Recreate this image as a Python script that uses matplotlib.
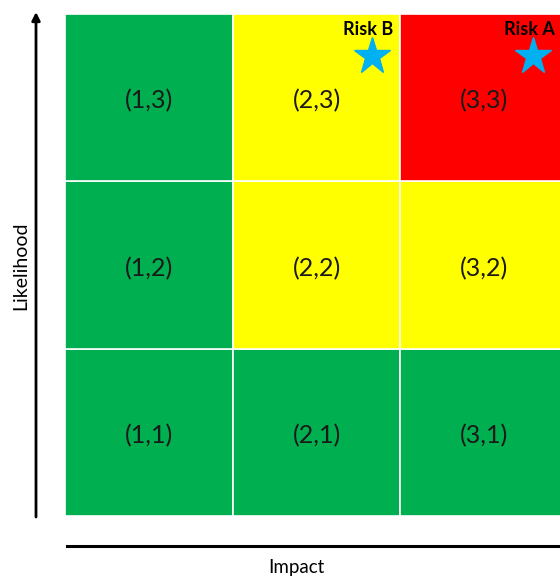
import matplotlib.pyplot as plt
from matplotlib.patches import Rectangle

plt.rcParams['font.family'] = ['Lato', 'DejaVu Sans']

# impact (x) and likelihood (y) levels
impact = [1, 2, 3]
likelihood = [1, 2, 3]
# score colour for each cell, indexed [likelihood-1][impact-1]
cell_colors = [
    ['#00B050', '#00B050', '#00B050'],
    ['#00B050', '#FFFF00', '#FFFF00'],
    ['#00B050', '#FFFF00', '#FF0000'],
]
risk_names = ['Risk A', 'Risk B']
risk_x = [2.79, 1.83]
risk_y = [2.75, 2.75]

W, H = 560, 578
fig = plt.figure(figsize=(W / 100, H / 100), dpi=100)
# grid runs a little past the right edge of the canvas
ax = fig.add_axes([65 / W, (H - 516) / H, 503 / W, 502 / H])
ax.set_xlim(0, 3)
ax.set_ylim(0, 3)
ax.axis('off')

for j, lk in enumerate(likelihood):
    for i, im in enumerate(impact):
        ax.add_patch(Rectangle((i, j), 1, 1, facecolor=cell_colors[j][i],
                               edgecolor='white', linewidth=1.2))
        ax.text(i + 0.5, j + 0.48, '(%d,%d)' % (im, lk), ha='center', va='center',
                fontsize=18, color='#1a1a1a')

for name, x, y in zip(risk_names, risk_x, risk_y):
    ax.plot(x, y, marker='*', markersize=28, color='#00B0F0', markeredgecolor='#00B0F0',
            clip_on=False)
    ax.text(x - 0.02, 2.905, name, ha='center', va='center', fontsize=13,
            fontweight='bold', color='black', clip_on=False)

# axis arrows
fig.add_artist(plt.Line2D([67 / W, 1.02], [(H - 546) / H] * 2, color='black', linewidth=2.2))
ax.annotate('', xy=(36 / W, (H - 12) / H), xytext=(36 / W, (H - 517) / H),
            xycoords='figure fraction', textcoords='figure fraction',
            arrowprops=dict(arrowstyle='-|>', color='black', linewidth=2,
                            mutation_scale=12, shrinkA=0, shrinkB=0))

fig.text(296 / W, (H - 568) / H, 'Impact', ha='center', va='center', fontsize=13.5)
fig.text(21 / W, (H - 266) / H, 'Likelihood', ha='center', va='center', fontsize=14,
         rotation=90)

fig.savefig('out.png', dpi=100)
